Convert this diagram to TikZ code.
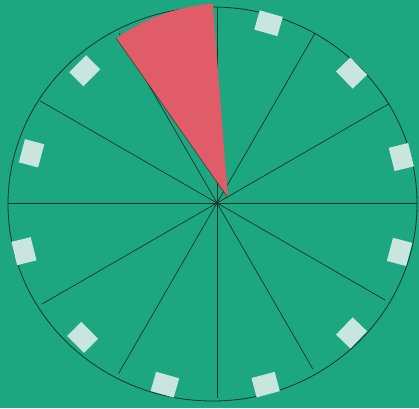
\documentclass[tikz,border=0pt]{standalone}
\usetikzlibrary{calc}

\definecolor{paper}{HTML}{1CA780}
\definecolor{pencil}{HTML}{163329}
\definecolor{wedge}{HTML}{E05C68}
\definecolor{tape}{HTML}{C8E5DE}

\tikzset{
  tapebox/.style={fill=tape, inner sep=0pt, minimum width=24pt, minimum height=20pt}
}

\begin{document}
\begin{tikzpicture}[x=1pt, y=1pt]

% ---- Paper background ----
\fill[paper] (0,0) rectangle (419,408);
\useasboundingbox (0,0) rectangle (419,408);

\coordinate (c) at (217,205);

% ---- Circle and twelve spokes ----
\draw[pencil, line width=0.8pt] (212.5,204) ellipse [x radius=204.5, y radius=197];
\foreach \ang/\rad in {
    0/200, 30/199, 60/196, 90/196, 120/196, 150/204,
    180/209, 210/202, 240/197, 270/195, 300/192, 330/194
}{
    \draw[pencil, line width=0.7pt] (c) -- ++(\ang:\rad);
}
\fill[pencil] (c) circle (1.8pt);

% ---- Tape marks between the spokes ----
\foreach \ang/\rad in {
    14/190, 44/187, 74/187, 135/187, 165/192,
    194/199, 225/190, 254/189, 285/188, 316/187, 345/189
}{
    \node[tapebox, rotate=\ang-90] (t\ang) at ($(c)+(\ang:\rad)$) {};
}

% ---- Red paper wedge (slightly off the spokes) ----
\coordinate (apex) at (228,210);
\fill[wedge] (apex) -- ++(94.5:195) arc [start angle=94.5, end angle=125, radius=195] -- cycle;
\draw[pencil!70!black, line width=0.7pt, opacity=0.6] (apex) -- ++(125:195);

\end{tikzpicture}
\end{document}
